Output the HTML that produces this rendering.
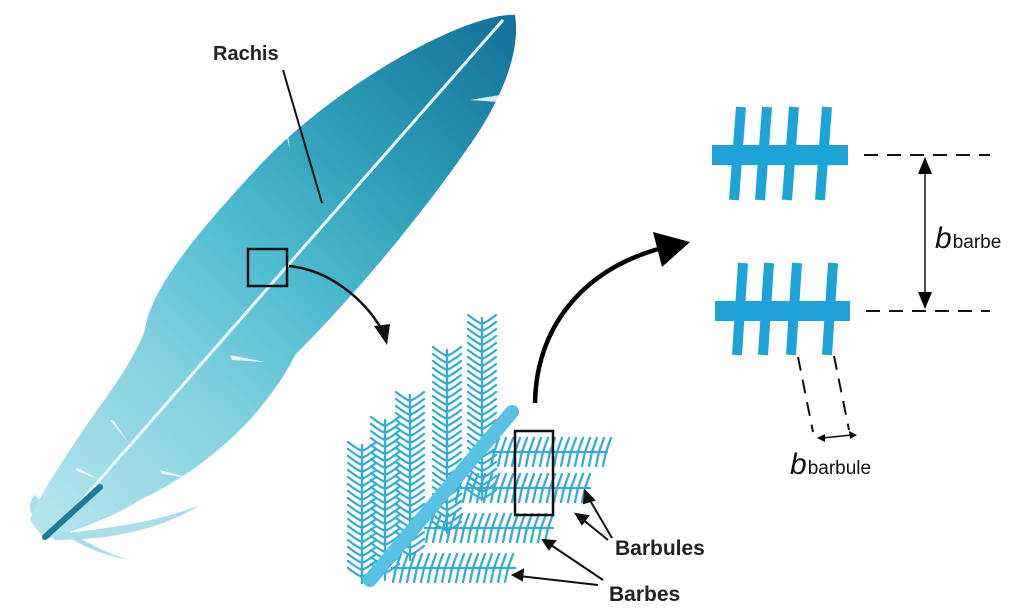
<!DOCTYPE html>
<html><head><meta charset="utf-8"><style>
html,body{margin:0;padding:0;background:#fff;}
svg{display:block;}
text{font-family:"Liberation Sans",sans-serif;}
</style></head><body>
<svg id="s" width="1024" height="612" viewBox="0 0 1024 612" xmlns="http://www.w3.org/2000/svg">
<defs>
<linearGradient id="fg" x1="60" y1="530" x2="510" y2="20" gradientUnits="userSpaceOnUse">
<stop offset="0" stop-color="#b5e3ec"/>
<stop offset="0.3" stop-color="#7fd0df"/>
<stop offset="0.5" stop-color="#4fbccf"/>
<stop offset="0.75" stop-color="#2a98b5"/>
<stop offset="1" stop-color="#13729a"/>
</linearGradient>
<linearGradient id="rod" x1="0" y1="0" x2="1" y2="1">
<stop offset="0" stop-color="#7fd3ec"/><stop offset="1" stop-color="#2fb0dc"/>
</linearGradient>
</defs>
<!-- lower wisps -->
<g fill="#9fdbe8" opacity="0.9">
<path d="M40,530 C60,480 90,440 130,400 C120,440 100,480 60,520 Z"/>
<path d="M40,530 C40,500 60,470 95,445 C85,480 70,505 45,530 Z"/>
<path d="M45,535 C80,520 130,500 175,470 C150,500 110,520 50,538 Z"/>
<path d="M50,535 C90,530 150,525 200,505 C160,530 110,540 55,540 Z"/>
<path d="M50,530 C30,520 25,505 35,495 C45,505 50,515 55,528 Z"/>
<path d="M60,525 C80,540 110,555 130,560 C100,555 80,545 58,530 Z"/>
</g>
<!-- feather body -->
<path d="M515,15 C470,12 340,80 260,165 C195,235 150,290 145,330 C130,370 95,410 70,450 C50,480 35,505 30,520 L45,540 C70,530 110,515 150,495 C200,470 245,430 270,395 C285,375 290,365 295,355 C360,290 430,205 480,130 C508,85 520,45 515,15 Z" fill="url(#fg)"/>
<g fill="#fff" opacity="0.85">
<path d="M280,110 L290,150 L285,112 Z"/>
<path d="M500,95 L470,100 L498,102 Z"/>
<path d="M230,355 L265,362 L232,360 Z"/>
<path d="M110,420 L130,445 L113,420 Z"/>
<path d="M75,470 L100,480 L78,468 Z"/>
<path d="M160,470 L190,478 L162,474 Z"/>
</g>
<line x1="503" y1="20" x2="60" y2="525" stroke="#e9f8fb" stroke-width="3"/>
<line x1="45" y1="537" x2="100" y2="487" stroke="#1a7d96" stroke-width="6" stroke-linecap="round"/>
<text x="213" y="60" font-size="20" font-weight="bold" fill="#222">Rachis</text>
<line x1="283" y1="70" x2="322" y2="203" stroke="#111" stroke-width="2"/>
<rect x="248" y="249" width="39" height="37" fill="none" stroke="#111" stroke-width="2.5"/>
<path d="M289,266 C330,270 365,300 382,330" fill="none" stroke="#111" stroke-width="2.5"/>
<polygon points="374,326 390,324 387,345" fill="#111"/>
<g id="fronds" stroke="#35acd3" stroke-width="2.3" fill="none" stroke-linecap="round"></g>
<line x1="370" y1="580" x2="512" y2="412" stroke="url(#rod)" stroke-width="14" stroke-linecap="round"/>
<rect x="515" y="431" width="38" height="84" fill="none" stroke="#111" stroke-width="2.5"/>
<text x="615" y="555" font-size="21" font-weight="bold" fill="#222">Barbules</text>
<text x="609" y="601" font-size="21" font-weight="bold" fill="#222">Barbes</text>
<g stroke="#111" stroke-width="2" fill="#111">
<line x1="612" y1="538" x2="588" y2="497"/><polygon points="585,491 594,500 584,503"/>
<line x1="608" y1="540" x2="581" y2="518"/><polygon points="576,514 588,516 582,524"/>
<line x1="603" y1="580" x2="548" y2="543"/><polygon points="543,540 555,541 549,549"/>
<line x1="598" y1="585" x2="519" y2="576"/><polygon points="513,575 523,570 522,580"/>
</g>
<path d="M535,403 C536,330 580,270 662,248" fill="none" stroke="#000" stroke-width="4.5"/>
<polygon points="653,232 690,242 662,267" fill="#000"/>
<g fill="#1ea3d6">
<rect x="712" y="145" width="136" height="20"/>
<rect x="715" y="301" width="135" height="20"/>
</g>
<g stroke="#1ea3d6" stroke-width="10" stroke-linecap="butt">
<line x1="741" y1="107" x2="734" y2="200"/>
<line x1="767" y1="107" x2="760" y2="200"/>
<line x1="794" y1="107" x2="787" y2="200"/>
<line x1="827" y1="107" x2="820" y2="200"/>
<line x1="743" y1="263" x2="737" y2="355"/>
<line x1="769" y1="263" x2="763" y2="355"/>
<line x1="797" y1="263" x2="791" y2="355"/>
<line x1="833" y1="263" x2="827" y2="355"/>
</g>
<g stroke="#111" stroke-width="2" stroke-dasharray="14,9" fill="none">
<line x1="864" y1="155" x2="990" y2="155"/>
<line x1="866" y1="311" x2="990" y2="311"/>
<line x1="798" y1="357" x2="813" y2="432"/>
<line x1="834" y1="356" x2="849" y2="430"/>
</g>
<line x1="925" y1="172" x2="925" y2="294" stroke="#111" stroke-width="1.5"/>
<polygon points="925,157 918,174 932,174" fill="#000"/>
<polygon points="925,309 918,292 932,292" fill="#000"/>
<line x1="822" y1="438" x2="852" y2="435" stroke="#111" stroke-width="1.5"/>
<polygon points="817,438 825,434 825,442" fill="#000"/>
<polygon points="857,435 849,431 850,439" fill="#000"/>
<text x="935" y="248" font-size="30" font-style="italic" fill="#111">b<tspan font-size="19" font-style="normal" dx="1">barbe</tspan></text>
<text x="790" y="474" font-size="30" font-style="italic" fill="#111">b<tspan font-size="19" font-style="normal" dx="1">barbule</tspan></text>
</svg>
<script>
(function(){
var g=document.getElementById('fronds'),d='';
function v(x,y1,y2){
 d+='M'+x+','+y1+'L'+x+','+y2;
 for(var y=y1+6;y<y2;y+=7){d+='M'+(x-14)+','+(y-9)+'Q'+(x-5)+','+(y-2)+' '+x+','+y+'Q'+(x+5)+','+(y-2)+' '+(x+14)+','+(y-9);}
}
function h(y,x1,x2){
 d+='M'+x1+','+y+'L'+x2+','+y;
 for(var x=x1+4;x<x2;x+=7){d+='M'+(x+5)+','+(y-14)+'L'+x+','+y+'L'+(x-3)+','+(y+14);}
}
v(362,445,583);v(385,420,580);v(410,395,560);v(447,350,533);v(482,318,500);
h(452,490,607);h(488,455,590);h(528,425,553);h(568,392,515);
var p=document.createElementNS('http://www.w3.org/2000/svg','path');
p.setAttribute('d',d);g.appendChild(p);
})();
</script>
</body></html>
